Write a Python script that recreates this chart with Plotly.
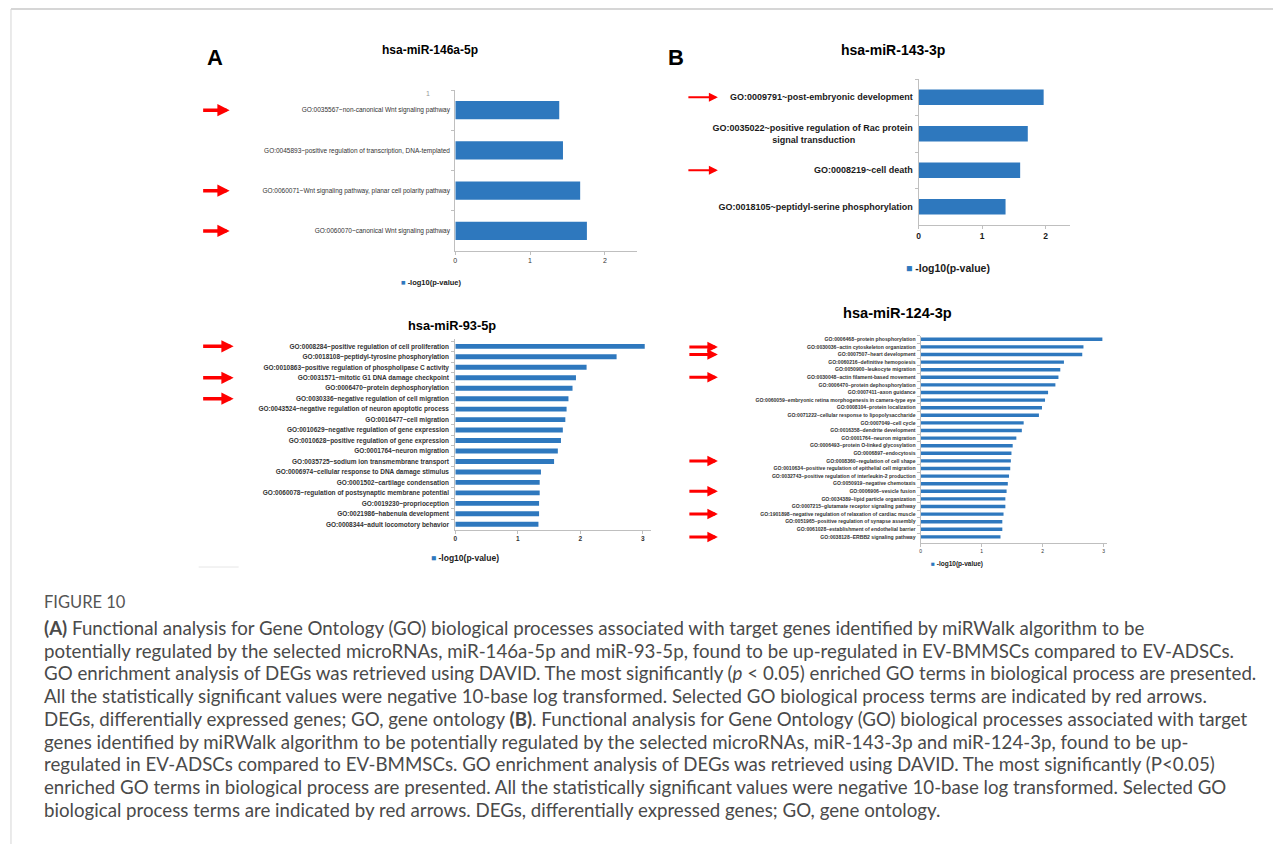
import plotly.graph_objects as go

# page is 1281x852; the html body adds an 8px margin, so the figure is offset by 8px
PAGE_W, PAGE_H = 1281, 852
OX, OY = 8, 8
FW, FH = PAGE_W - 2 * OX, PAGE_H - 2 * OY
BLUE = "#2E78BE"
RED = "#FF0000"
AXC = "#BFBFBF"

# ---------------- data ----------------
# A (top): hsa-miR-146a-5p
a1_terms = [
    "GO:0035567~non-canonical Wnt signaling pathway",
    "GO:0045893~positive regulation of transcription, DNA-templated",
    "GO:0060071~Wnt signaling pathway, planar cell polarity pathway",
    "GO:0060070~canonical Wnt signaling pathway",
]
a1_vals = [1.39, 1.44, 1.67, 1.76]
a1_marked = [True, False, True, True]

# B (top): hsa-miR-143-3p
b1_terms = [
    "GO:0009791~post-embryonic development",
    "GO:0035022~positive regulation of Rac protein<br>signal transduction" + "\u00a0" * 23,
    "GO:0008219~cell death",
    "GO:0018105~peptidyl-serine phosphorylation",
]
b1_vals = [1.97, 1.72, 1.60, 1.37]
b1_marked = [True, False, True, False]

# A (bottom): hsa-miR-93-5p
a2_terms = [
    "GO:0008284~positive regulation of cell proliferation",
    "GO:0018108~peptidyl-tyrosine phosphorylation",
    "GO:0010863~positive regulation of phospholipase C activity",
    "GO:0031571~mitotic G1 DNA damage checkpoint",
    "GO:0006470~protein dephosphorylation",
    "GO:0030336~negative regulation of cell migration",
    "GO:0043524~negative regulation of neuron apoptotic process",
    "GO:0016477~cell migration",
    "GO:0010629~negative regulation of gene expression",
    "GO:0010628~positive regulation of gene expression",
    "GO:0001764~neuron migration",
    "GO:0035725~sodium ion transmembrane transport",
    "GO:0006974~cellular response to DNA damage stimulus",
    "GO:0001502~cartilage condensation",
    "GO:0060078~regulation of postsynaptic membrane potential",
    "GO:0019230~proprioception",
    "GO:0021986~habenula development",
    "GO:0008344~adult locomotory behavior",
]
a2_vals = [3.03, 2.58, 2.10, 1.93, 1.875, 1.81, 1.78, 1.76, 1.72, 1.69,
           1.64, 1.58, 1.37, 1.35, 1.35, 1.34, 1.34, 1.33]
a2_marked = [True, False, False, True, False, True] + [False] * 12

# B (bottom): hsa-miR-124-3p
b2_terms = [
    "GO:0006468~protein phosphorylation",
    "GO:0030036~actin cytoskeleton organization",
    "GO:0007507~heart development",
    "GO:0060216~definitive hemopoiesis",
    "GO:0050900~leukocyte migration",
    "GO:0030048~actin filament-based movement",
    "GO:0006470~protein dephosphorylation",
    "GO:0007411~axon guidance",
    "GO:0060059~embryonic retina morphogenesis in camera-type eye",
    "GO:0008104~protein localization",
    "GO:0071222~cellular response to lipopolysaccharide",
    "GO:0007049~cell cycle",
    "GO:0016358~dendrite development",
    "GO:0001764~neuron migration",
    "GO:0006493~protein O-linked glycosylation",
    "GO:0006897~endocytosis",
    "GO:0008360~regulation of cell shape",
    "GO:0010634~positive regulation of epithelial cell migration",
    "GO:0032743~positive regulation of interleukin-2 production",
    "GO:0050919~negative chemotaxis",
    "GO:0006906~vesicle fusion",
    "GO:0034389~lipid particle organization",
    "GO:0007215~glutamate receptor signaling pathway",
    "GO:1901898~negative regulation of relaxation of cardiac muscle",
    "GO:0051965~positive regulation of synapse assembly",
    "GO:0061028~establishment of endothelial barrier",
    "GO:0038128~ERBB2 signaling pathway",
]
b2_vals = [2.98, 2.67, 2.65, 2.35, 2.29, 2.26, 2.21, 2.09, 2.04, 1.99, 1.94,
           1.69, 1.66, 1.57, 1.51, 1.49, 1.48, 1.47, 1.45, 1.43, 1.41, 1.39,
           1.39, 1.36, 1.34, 1.34, 1.31]
b2_marked = [False, True, True, False, False, True] + [False] * 10 + \
            [True, False, False, False, True, False, False, True, False, False, True]

titles = ["hsa-miR-146a-5p", "hsa-miR-143-3p", "hsa-miR-93-5p", "hsa-miR-124-3p"]
legend_text = "-log10(p-value)"

caption_head = "FIGURE 10"
caption_lines = [
    "<b>(A)</b> Functional analysis for Gene Ontology (GO) biological processes associated with target genes identified by miRWalk algorithm to be",
    "potentially regulated by the selected microRNAs, miR-146a-5p and miR-93-5p, found to be up-regulated in EV-BMMSCs compared to EV-ADSCs.",
    "GO enrichment analysis of DEGs was retrieved using DAVID. The most significantly (<i>p</i> &lt; 0.05) enriched GO terms in biological process are presented.",
    "All the statistically significant values were negative 10-base log transformed. Selected GO biological process terms are indicated by red arrows.",
    "DEGs, differentially expressed genes; GO, gene ontology <b>(B)</b>. Functional analysis for Gene Ontology (GO) biological processes associated with target",
    "genes identified by miRWalk algorithm to be potentially regulated by the selected microRNAs, miR-143-3p and miR-124-3p, found to be up-",
    "regulated in EV-ADSCs compared to EV-BMMSCs. GO enrichment analysis of DEGs was retrieved using DAVID. The most significantly (P&lt;0.05)",
    "enriched GO terms in biological process are presented. All the statistically significant values were negative 10-base log transformed. Selected GO",
    "biological process terms are indicated by red arrows. DEGs, differentially expressed genes; GO, gene ontology.",
]

# ---------------- layout helpers (page pixels -> paper) ----------------
def px(x):
    return (x - OX) / FW

def py(y):
    return 1 - (y - OY) / FH

def xd(a, b):
    return [px(a), px(b)]

def yd(top, bottom):
    return [py(bottom), py(top)]

SANS = "Liberation Sans, Arial"

panels = [
    dict(terms=a1_terms, vals=a1_vals, marked=a1_marked,
         xdom=(454, 636), xmax=2.43, ydom=(90, 251), dtick=1,
         lab_font=dict(size=6.5, family=SANS, color="#333333"),
         tick_font=dict(size=7, family=SANS, color="#333333"), standoff=3,
         width=0.45, title_xy=(429, 50), title_size=12,
         leg_xy=(430, 282), leg_size=7.5,
         arrow=dict(tip=228, len=28, w=3.5, size=0.7)),
    dict(terms=b1_terms, vals=b1_vals, marked=b1_marked,
         xdom=(918, 1070), xmax=2.39, ydom=(79, 225), dtick=1,
         lab_font=dict(size=9, family=SANS, color="#1a1a1a", weight="bold"),
         tick_font=dict(size=8.5, family=SANS, color="#1a1a1a", weight="bold"), standoff=3,
         width=0.42, title_xy=(892, 50), title_size=14,
         leg_xy=(947, 268), leg_size=10.5,
         arrow=dict(tip=717, len=31, w=2, size=0.9)),
    dict(terms=a2_terms, vals=a2_vals, marked=a2_marked,
         xdom=(454, 650), xmax=3.13, ydom=(339, 529.5), dtick=1,
         lab_font=dict(size=6.5, family=SANS, color="#333333", weight="bold"),
         tick_font=dict(size=6.5, family=SANS, color="#333333", weight="bold"), standoff=4,
         width=0.47, title_xy=(451, 325), title_size=12.8,
         leg_xy=(464, 558), leg_size=8.5,
         arrow=dict(tip=232, len=32, w=3.5, size=0.7)),
    dict(terms=b2_terms, vals=b2_vals, marked=b2_marked,
         xdom=(920, 1107), xmax=3.06, ydom=(335.5, 543.2), dtick=1,
         lab_font=dict(size=5.1, family=SANS, color="#333333", weight="bold"),
         tick_font=dict(size=5, family=SANS, color="#333333"), standoff=3,
         width=0.45, title_xy=(897, 313), title_size=14.6,
         leg_xy=(957, 564), leg_size=6.5,
         arrow=dict(tip=717, len=30, w=3, size=0.7)),
]

fig = go.Figure()
annotations = []

for i, p in enumerate(panels, start=1):
    sfx = "" if i == 1 else str(i)
    fig.add_trace(go.Bar(
        x=p["vals"], y=p["terms"], orientation="h",
        marker=dict(color=BLUE, line=dict(width=0)),
        width=p["width"], xaxis="x" + sfx, yaxis="y" + sfx,
        showlegend=False, hoverinfo="x+y",
    ))
    fig.layout["xaxis" + sfx] = dict(
        domain=xd(*p["xdom"]), range=[0, p["xmax"]], anchor="y" + sfx,
        dtick=p["dtick"], tick0=0, showgrid=False, zeroline=False,
        showline=True, linecolor=AXC, linewidth=1,
        ticks="outside", ticklen=3, tickcolor=AXC,
        tickfont=p["tick_font"], fixedrange=True,
    )
    fig.layout["yaxis" + sfx] = dict(
        domain=yd(*p["ydom"]), anchor="x" + sfx, type="category",
        autorange="reversed", showgrid=False, zeroline=False,
        showline=True, linecolor=AXC, linewidth=1,
        ticks="outside", ticklen=3, tickcolor=AXC, tickson="boundaries",
        tickfont=p["lab_font"], ticklabelstandoff=p["standoff"], fixedrange=True,
    )
    # titles
    tx, ty = p["title_xy"]
    annotations.append(dict(
        x=px(tx), y=py(ty), xref="paper", yref="paper",
        text="<b>" + titles[i - 1] + "</b>", showarrow=False,
        font=dict(size=p["title_size"], family=SANS, color="#000000"),
        xanchor="center", yanchor="middle"))
    # legend
    lx, ly = p["leg_xy"]
    annotations.append(dict(
        x=px(lx), y=py(ly), xref="paper", yref="paper",
        text='<span style="color:%s">■</span> <b>%s</b>' % (BLUE, legend_text),
        showarrow=False,
        font=dict(size=p["leg_size"], family=SANS, color="#1a1a1a"),
        xanchor="center", yanchor="middle"))
    # red arrows
    a = p["arrow"]
    for term, m in zip(p["terms"], p["marked"]):
        if m:
            annotations.append(dict(
                x=px(a["tip"]), xref="paper", y=term, yref="y" + sfx,
                ax=-a["len"], ay=0, axref="pixel", ayref="pixel",
                text="", showarrow=True, arrowhead=2, arrowsize=a["size"],
                arrowwidth=a["w"], arrowcolor=RED, standoff=0))

# stray "1" mark above the first chart
annotations.append(dict(
    x=px(427), y=py(93), xref="paper", yref="paper", text="1", showarrow=False,
    font=dict(size=7, family=SANS, color="#999999"), xanchor="center", yanchor="middle"))

# panel letters
for letter, (lx, ly) in zip(["A", "B"], [(213, 57), (675, 57)]):
    annotations.append(dict(
        x=px(lx), y=py(ly), xref="paper", yref="paper",
        text="<b>" + letter + "</b>", showarrow=False,
        font=dict(size=22, family=SANS, color="#000000"),
        xanchor="center", yanchor="middle"))

# caption
CAP_FONT = "Lato, Open Sans, sans-serif"
annotations.append(dict(
    x=px(40), y=py(602), xref="paper", yref="paper",
    text=caption_head, showarrow=False,
    font=dict(size=16.5, family=CAP_FONT, color="#555555"),
    xanchor="left", yanchor="middle"))
for k, line in enumerate(caption_lines):
    yy = 628 + 22.7 * k
    annotations.append(dict(
        x=px(40), y=py(yy), xref="paper", yref="paper",
        text=line, showarrow=False,
        font=dict(size=18.7, family=CAP_FONT, color="#4a4a4a"),
        xanchor="left", yanchor="middle"))

shapes = [
    dict(type="line", xref="paper", yref="paper", x0=px(9), x1=1, y0=py(9), y1=py(9),
         line=dict(color="#C8C8C8", width=1.5)),
    dict(type="line", xref="paper", yref="paper", x0=px(9), x1=px(9), y0=0, y1=py(9),
         line=dict(color="#D5D5D5", width=1)),
    dict(type="line", xref="paper", yref="paper", x0=px(197), x1=px(237), y0=py(567), y1=py(567),
         line=dict(color="#E6E6E6", width=1)),
]

fig.update_layout(
    width=FW, height=FH, margin=dict(l=0, r=0, t=0, b=0),
    paper_bgcolor="white", plot_bgcolor="white",
    annotations=annotations, shapes=shapes, showlegend=False,
)

fig.write_html("out.html")
